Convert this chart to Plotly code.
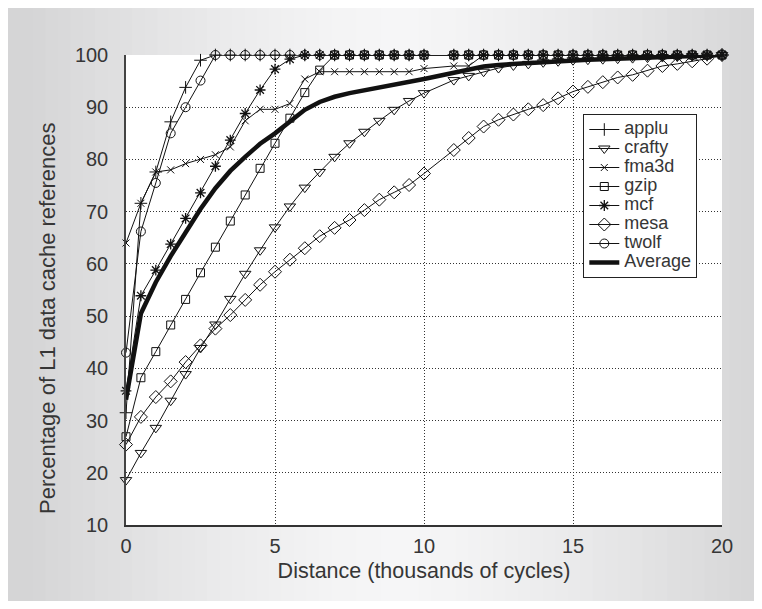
import plotly.graph_objects as go

# ---------------- data ----------------
distance = [0, 0.5, 1, 1.5, 2, 2.5, 3, 3.5, 4, 4.5, 5, 5.5, 6, 6.5, 7, 7.5, 8, 8.5, 9, 9.5, 10,
            11, 11.5, 12, 12.5, 13, 13.5, 14, 14.5, 15, 15.5, 16, 16.5, 17, 17.5, 18, 18.5, 19, 19.5, 20]

applu = [31.5, 71.6, 77.6, 87.2, 93.8, 99.0] + [100] * 34
crafty = [18.6, 23.8, 28.6, 33.8, 38.9, 43.9, 48.4, 53.3, 58.1, 62.6, 67.0, 71.0, 74.6, 77.6, 80.5,
          83.1, 85.3, 87.4, 89.5, 91.2, 92.7,
          95.2, 96.0, 96.8, 97.5, 98.0, 98.3, 98.6, 98.8, 99.0, 99.1, 99.2, 99.3, 99.4, 99.5, 99.6,
          99.7, 99.8, 99.9, 100]
fma3d = [64.0, 71.6, 77.6, 78.0, 79.2, 80.0, 80.9, 82.4, 87.4, 89.6, 89.6, 90.7, 95.4, 96.8, 96.8,
         96.8, 96.8, 96.8, 96.8, 96.8, 97.4,
         97.9, 97.9] + [100] * 17
gzip = [26.9, 38.2, 43.2, 48.3, 53.2, 58.3, 63.2, 68.2, 73.2, 78.3, 83.1, 87.9, 92.8, 97.1] + [100] * 26
mcf = [35.7, 53.9, 58.8, 63.8, 68.7, 73.6, 78.7, 83.7, 88.8, 93.3, 97.3, 99.2] + [100] * 28
mesa = [25.4, 30.7, 34.5, 37.5, 41.2, 44.4, 47.6, 50.2, 53.1, 56.0, 58.5, 60.8, 63.0, 65.3, 66.9,
        68.4, 70.3, 72.3, 73.7, 75.1, 77.3,
        81.8, 84.1, 86.3, 87.6, 88.6, 89.6, 90.4, 91.7, 93.0, 93.9, 94.8, 95.7, 96.2, 97.0, 97.9,
        98.3, 98.8, 99.3, 100]
twolf = [43.0, 66.2, 75.5, 85.0, 90.0, 95.1] + [100] * 34
average = [34.0, 50.5, 56.5, 61.5, 66.0, 70.5, 74.5, 77.8, 80.5, 83.0, 85.0, 87.3, 89.5, 91.0, 92.0,
           92.7, 93.2, 93.7, 94.2, 94.7, 95.4,
           96.6, 97.2, 97.8, 98.1, 98.3, 98.5, 98.7, 98.8, 99.0, 99.1, 99.2, 99.3, 99.4, 99.5, 99.6,
           99.7, 99.8, 99.9, 100]

series_names = ["applu", "crafty", "fma3d", "gzip", "mcf", "mesa", "twolf"]
series_values = [applu, crafty, fma3d, gzip, mcf, mesa, twolf]
series_symbols = ["cross-thin-open", "triangle-down-open", "x-thin-open", "square-open",
                  "asterisk-open", "diamond-open", "circle-open"]
series_sizes = [9, 10, 7, 8, 9, 10, 9]

x_ticks = [0, 5, 10, 15, 20]
y_ticks = [10, 20, 30, 40, 50, 60, 70, 80, 90, 100]
x_title = "Distance (thousands of cycles)"
y_title = "Percentage of L1 data cache references"

# ---------------- figure ----------------
# the page has an 8px body margin, so the figure is 746x593 at offset (8, 8)
W, H = 746, 593
L, R, T, B = 118, 713.6, 47, 517          # plot area in figure pixels
FONT = "Liberation Sans, Arial, sans-serif"
TXT = "#363636"

fig = go.Figure()

for name, vals, sym, sz in zip(series_names, series_values, series_symbols, series_sizes):
    fig.add_trace(go.Scatter(
        x=distance, y=vals, name=f'<span style="font-size:18px">{name}</span>',
        mode="lines+markers", cliponaxis=False,
        line=dict(color="#111111", width=1),
        marker=dict(symbol=sym, size=sz, color="#111111",
                    line=dict(color="#111111", width=1.3 if sym == "asterisk-open" else 1)),
    ))

fig.add_trace(go.Scatter(
    x=distance, y=average, name='<span style="font-size:18px">Average</span>',
    mode="lines", cliponaxis=False,
    line=dict(color="#111111", width=4.5),
))


def px_to_paper_x(px):
    return (px - L) / (R - L)


def py_to_paper_y(py):
    return (B - py) / (B - T)


# gray gradient backdrop across the whole figure
shapes = []
n = 60
for i in range(n):
    a = W * i / n
    b = W * (i + 1) / n
    c = (a + b) / 2
    t = min(1.0, abs(c - 387) / 365)
    v = int(round(246 - (246 - 213) * t ** 1.4))
    col = f"rgb({v},{v},{min(255, v + 1)})"
    shapes.append(dict(type="rect", xref="paper", yref="paper",
                       x0=px_to_paper_x(a), x1=px_to_paper_x(b) + 0.002,
                       y0=py_to_paper_y(H), y1=py_to_paper_y(0),
                       fillcolor=col, line=dict(width=0), layer="below"))
shapes.append(dict(type="rect", xref="paper", yref="paper", x0=0, x1=1, y0=0, y1=1,
                   fillcolor="white", line=dict(width=0), layer="below"))

fig.update_layout(
    width=W, height=H,
    margin=dict(l=L, r=W - R, t=T, b=H - B, pad=0),
    paper_bgcolor="#dcdcdd", plot_bgcolor="white",
    font=dict(family=FONT, size=18, color=TXT),
    shapes=shapes,
    showlegend=True,
    legend=dict(
        x=px_to_paper_x(575), y=py_to_paper_y(106), xanchor="left", yanchor="top",
        bgcolor="white", bordercolor="#222222", borderwidth=1,
        font=dict(family=FONT, size=12, color=TXT),
        itemwidth=30, tracegroupgap=0,
    ),
    xaxis=dict(
        range=[0, 20], tickvals=x_ticks, ticktext=[str(v) for v in x_ticks],
        showgrid=True, gridcolor="#333333", griddash="1px,2px", gridwidth=1,
        showline=True, linecolor="#333333", linewidth=1.5, mirror=False,
        zeroline=False, ticks="", ticklabelstandoff=2,
        tickfont=dict(family=FONT, size=20, color=TXT),
        title=dict(text=x_title, standoff=7,
                   font=dict(family=FONT, size=21.5, color=TXT)),
        automargin=False,
    ),
    yaxis=dict(
        range=[10, 100], tickvals=y_ticks, ticktext=[str(v) for v in y_ticks],
        showgrid=True, gridcolor="#333333", griddash="1px,2px", gridwidth=1,
        showline=True, linecolor="#444444", linewidth=1.5, mirror=False,
        zeroline=False, ticks="", ticklabelstandoff=12,
        tickfont=dict(family=FONT, size=20, color=TXT),
        automargin=False,
    ),
    annotations=[dict(
        text=y_title, textangle=-90, showarrow=False,
        xref="paper", yref="paper", x=px_to_paper_x(39), y=py_to_paper_y(310),
        xanchor="center", yanchor="middle",
        font=dict(family=FONT, size=22, color=TXT),
    )],
)

fig.write_html("out.html")
